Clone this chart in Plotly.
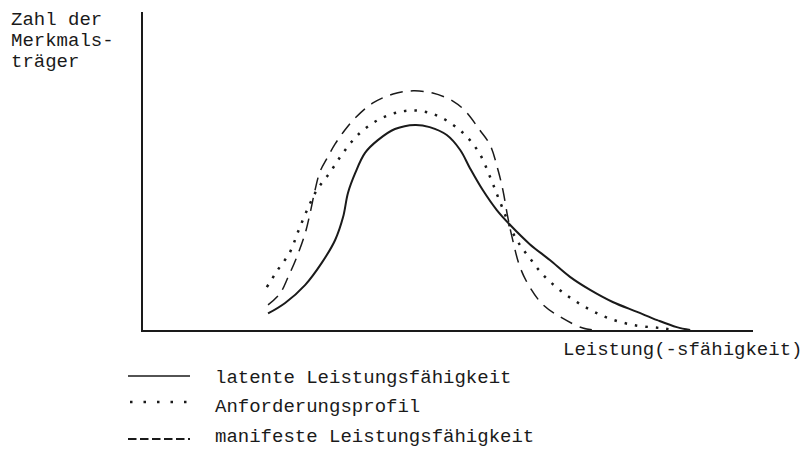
import plotly.graph_objects as go

# ---- data (arbitrary units 0..100) ----
latent_x = [20.5, 23.3, 26.6, 29.3, 31.5, 32.8, 33.6, 34.8, 36.4, 38.5, 41.3, 44.6, 47.0, 49.8,
            52.0, 53.6, 55.7, 58.0, 60.2, 63.4, 66.7, 70.0, 73.3, 77.0, 81.0, 84.3, 87.5, 89.7]
latent_y = [5.2, 8.5, 14.2, 21.1, 28.3, 35.5, 43.1, 49.4, 55.7, 59.7, 63.2, 64.5, 63.8, 61.3,
            56.6, 50.9, 44.0, 37.7, 33.0, 27.0, 22.0, 16.7, 12.6, 8.8, 5.7, 3.1, 0.9, 0.0]

profil_x = [20.3, 22.1, 24.1, 25.4, 26.9, 28.5, 30.7, 32.8, 35.2, 38.5, 42.1, 45.4, 48.7, 52.5,
            55.1, 56.9, 58.4, 61.0, 63.4, 65.9, 69.2, 72.8, 76.2, 80.3, 84.8, 87.2]
profil_y = [13.5, 18.9, 24.5, 30.8, 37.7, 44.0, 49.7, 55.7, 61.3, 66.0, 68.6, 68.9, 67.0, 61.9,
            55.7, 48.1, 40.9, 29.2, 22.6, 16.7, 11.3, 6.9, 3.8, 1.6, 0.6, 0.0]

manifest_x = [20.5, 22.5, 23.8, 25.2, 26.6, 27.4, 28.2, 29.0, 30.2, 31.5, 33.1, 34.8, 37.7, 41.0,
              44.3, 47.5, 50.8, 52.8, 55.2, 56.9, 58.2, 59.0, 59.8, 60.5, 61.8, 63.4, 65.6, 68.7,
              72.1, 74.1]
manifest_y = [7.9, 11.6, 16.7, 22.9, 30.5, 36.8, 44.0, 49.7, 54.1, 58.5, 62.9, 66.7, 71.4, 74.2,
              75.2, 74.5, 72.0, 68.9, 62.9, 58.2, 50.3, 44.0, 35.5, 29.2, 19.8, 13.5, 7.9, 3.8,
              0.6, 0.0]

series_names = ["latente Leistungsfähigkeit", "Anforderungsprofil", "manifeste Leistungsfähigkeit"]
y_label_lines = ["Zahl der", "Merkmals-", "träger"]
x_label = "Leistung(-sfähigkeit)"

# ---- layout geometry (pixels) ----
W, H = 808, 450
L, R, T, B = 143, 753, 12, 330
FONT = "Liberation Mono, DejaVu Sans Mono, monospace"
INK = "#1a1a1a"

def px(x):
    return (x - L) / (R - L)

def py(y):
    return (B - y) / (B - T)

fig = go.Figure()
fig.add_trace(go.Scatter(x=latent_x, y=latent_y, mode="lines", name=series_names[0],
                         line=dict(color=INK, width=2, shape="spline", smoothing=1.0)))
fig.add_trace(go.Scatter(x=profil_x, y=profil_y, mode="lines", name=series_names[1],
                         line=dict(color=INK, width=2.5, dash="2.5px,8px", shape="spline", smoothing=1.0)))
fig.add_trace(go.Scatter(x=manifest_x, y=manifest_y, mode="lines", name=series_names[2],
                         line=dict(color=INK, width=1.5, dash="13px,8px", shape="spline", smoothing=1.0)))

annotations = []
for i, t in enumerate(y_label_lines):
    annotations.append(dict(text=t, xref="paper", yref="paper", x=px(9), y=py(20 + 21 * i),
                            xanchor="left", yanchor="middle", showarrow=False,
                            font=dict(family=FONT, size=19, color=INK)))
annotations.append(dict(text=x_label, xref="paper", yref="paper", x=px(804), y=py(350),
                        xanchor="right", yanchor="middle", showarrow=False,
                        font=dict(family=FONT, size=19, color=INK)))

legend_rows = [378, 407, 437]
legend_keys = [("solid", 376, 1.5, 128, 190), ("2.5px,11px", 402, 2.5, 130, 187),
               ("8.5px,3.5px", 439, 1.8, 128, 190)]
shapes = []
for (dash, yk, wdt, xa, xb), yt, name in zip(legend_keys, legend_rows, series_names):
    shapes.append(dict(type="line", xref="paper", yref="paper", x0=px(xa), x1=px(xb),
                       y0=py(yk), y1=py(yk), line=dict(color=INK, width=wdt, dash=dash)))
    annotations.append(dict(text=name, xref="paper", yref="paper", x=px(213), y=py(yt),
                            xanchor="left", yanchor="middle", showarrow=False,
                            font=dict(family=FONT, size=19, color=INK)))

fig.update_layout(
    width=W, height=H,
    margin=dict(l=L, r=W - R, t=T, b=H - B, pad=0),
    paper_bgcolor="white", plot_bgcolor="white",
    showlegend=False,
    xaxis=dict(range=[0, 100], showline=True, linewidth=2, linecolor=INK, showgrid=False,
               zeroline=False, showticklabels=False, ticks=""),
    yaxis=dict(range=[0, 100], showline=True, linewidth=2, linecolor=INK, showgrid=False,
               zeroline=False, showticklabels=False, ticks=""),
    annotations=annotations,
    shapes=shapes,
)

fig.write_html("out.html", config={"displayModeBar": False},
               post_script="document.body.style.margin='0';document.body.style.overflow='hidden';")
